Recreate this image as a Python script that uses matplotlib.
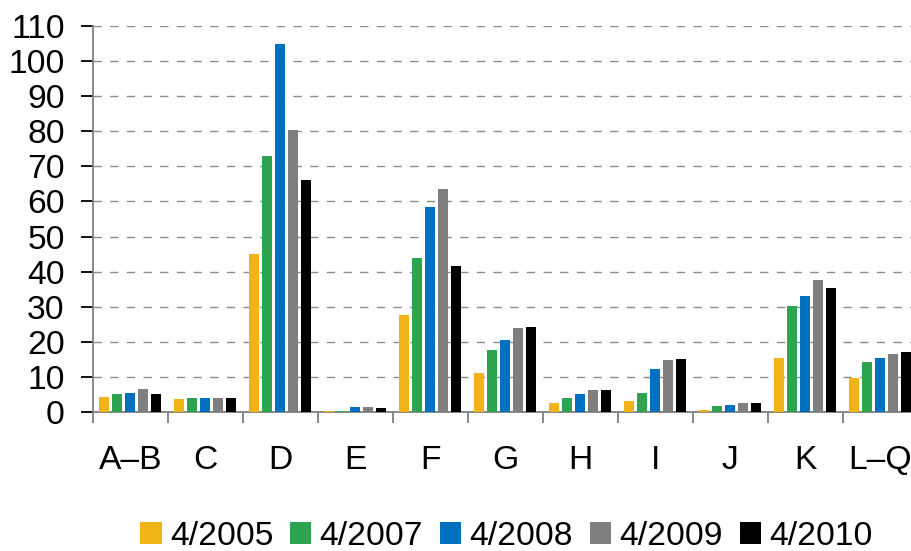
import matplotlib
matplotlib.use("Agg")
import matplotlib.pyplot as plt
from matplotlib.patches import Patch
import numpy as np

plt.rcParams["font.family"] = ["Liberation Sans", "DejaVu Sans"]

categories = ["A–B", "C", "D", "E", "F", "G", "H", "I", "J", "K", "L–Q"]
series_labels = ["4/2005", "4/2007", "4/2008", "4/2009", "4/2010"]
colors = ["#F0B416", "#2CA450", "#0070C0", "#7F7F7F", "#000000"]

v2005 = [4.4, 3.8, 45.0, 0.2, 27.7, 11.2, 2.7, 3.1, 0.7, 15.5, 9.8]
v2007 = [5.2, 4.1, 73.0, 0.2, 44.0, 17.7, 4.1, 5.5, 1.8, 30.3, 14.3]
v2008 = [5.5, 4.1, 105.0, 1.5, 58.5, 20.4, 5.2, 12.2, 2.1, 33.1, 15.5]
v2009 = [6.6, 4.1, 80.3, 1.5, 63.5, 24.0, 6.4, 14.8, 2.7, 37.7, 16.6]
v2010 = [5.2, 4.1, 66.0, 1.1, 41.7, 24.2, 6.4, 15.1, 2.7, 35.4, 17.2]
series = [v2005, v2007, v2008, v2009, v2010]

FS = 24.2

fig = plt.figure(figsize=(9.11, 5.51), dpi=100)
ax = fig.add_axes([0.1018, 0.2523, 0.9056, 0.7005])

x = np.arange(len(categories))
step = 0.1733
width = 0.1333
for i, (vals, c) in enumerate(zip(series, colors)):
    ax.bar(x + (i - 2) * step, vals, width=width, color=c, zorder=3)

ax.set_xlim(-0.5, len(categories) - 0.5)
ax.set_ylim(0, 110)
ax.set_yticks(range(0, 111, 10))
ax.yaxis.grid(True, linestyle=(0, (6, 6)), color="#8c8c8c", linewidth=1.0, zorder=0)

ax.set_xticks(x)
ax.set_xticklabels(categories)
ax.set_xticks(np.arange(-0.5, len(categories), 1.0), minor=True)
ax.tick_params(axis="x", which="major", length=0, pad=24, labelsize=FS)
ax.tick_params(axis="x", which="minor", length=8, width=1.3, color="#7f7f7f", direction="out")
ax.tick_params(axis="y", length=8.6, width=1.3, color="#000000", pad=11.5, labelsize=FS)

for s in ["top", "right"]:
    ax.spines[s].set_visible(False)
ax.spines["left"].set_color("#7f7f7f")
ax.spines["left"].set_linewidth(1.3)
ax.spines["bottom"].set_color("#7f7f7f")
ax.spines["bottom"].set_linewidth(1.3)

handles = [Patch(facecolor=c, edgecolor="none") for c in colors]
fig.legend(handles, series_labels, loc="center", bbox_to_anchor=(0.556, 0.027), ncol=5,
           frameon=False, fontsize=FS, handlelength=0.63, handleheight=0.63,
           handletextpad=0.25, columnspacing=0.5, borderpad=0)

fig.savefig("out.png", dpi=100)
